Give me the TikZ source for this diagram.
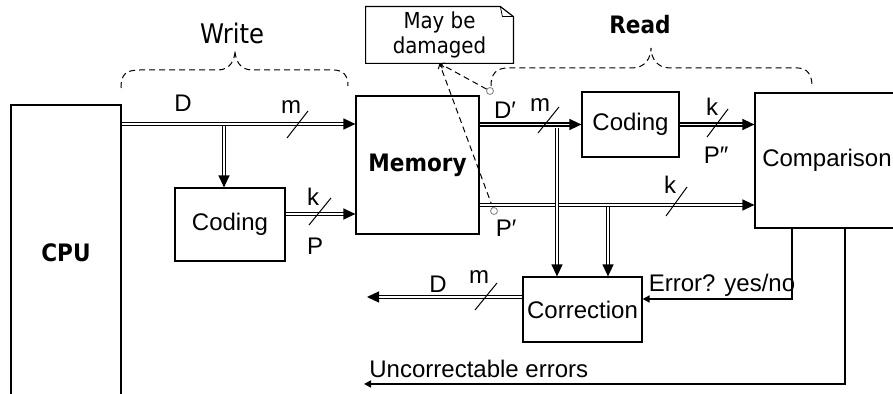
\documentclass[tikz,border=0pt]{standalone}
\usepackage{fontspec}
\setmainfont{Liberation Sans}
\newfontfamily\comicfont{DejaVu Sans Condensed}
\usepackage{tikz}
\usetikzlibrary{arrows.meta}
\tikzstyle{box}=[draw=black,line width=0.6pt,inner sep=0pt,font=\fontsize{12}{14}\selectfont]
\tikzstyle{comic}=[inner sep=0pt,font=\comicfont\fontsize{11}{12.5}\selectfont]
\tikzstyle{comicbold}=[font=\comicfont\bfseries\fontsize{12}{14}\selectfont]
\tikzstyle{lbl}=[inner sep=0pt,font=\fontsize{12}{14}\selectfont]
\tikzstyle{bus}=[double,double distance=0.8pt,line width=0.65pt,-{Triangle[length=6pt,width=5.5pt]}]
\tikzstyle{sig}=[line width=0.8pt,-{Triangle[length=3.5pt,width=3.5pt]}]
\tikzstyle{tick}=[line width=0.5pt]
\tikzstyle{brace}=[line width=0.5pt,dash pattern=on 3pt off 2pt]
\tikzstyle{port}=[circle,draw=gray,fill=white,line width=0.4pt,minimum size=3.5pt,inner sep=0pt]

\begin{document}
\begin{tikzpicture}[x=0.5pt,y=-0.5pt]
	\useasboundingbox (0,0) rectangle (893,394);
	\node[box,comicbold,minimum width=55pt,minimum height=148pt] (cpu) at (66,253) {CPU};
	\node[box,comicbold,minimum width=61.5pt,minimum height=69pt] (mem) at (417.5,165) {Memory};
	\node[box,minimum width=55pt,minimum height=36.5pt] (wcod) at (230,224.5) {Coding};
	\node[box,minimum width=48.5pt,minimum height=32.5pt] (rcod) at (630.5,124.5) {Coding};
	\node[box,minimum width=72pt,minimum height=67.5pt] (cmp) at (827,160.5) {Comparison};
	\node[box,minimum width=59.5pt,minimum height=32.5pt] (cor) at (582.5,309.5) {Correction};

	\node[comic,minimum width=73.5pt,minimum height=28pt,align=center] (note) at (439.5,35) {May be\\damaged};
	\draw[line width=0.6pt] (note.south west) -- (note.north west) -- ([xshift=-6.5pt]note.north east)
		-- ([yshift=-5pt]note.north east) -- (note.south east) -- cycle;
	\draw[line width=0.4pt] ([xshift=-6.5pt]note.north east) -- ([xshift=-5.5pt,yshift=-5pt]note.north east)
		-- ([yshift=-5pt]note.north east);

	\node[comic,font=\comicfont\fontsize{13.5}{15}\selectfont] (wlbl) at (232,33) {Write};
	\node[comic,comicbold] (rlbl) at (640,25) {Read};
	\draw[brace] (121,88) .. controls (121,74) and (126,70) .. (140,70) -- (218,70)
		.. controls (230,70) and (235,60) .. (235,50) .. controls (235,60) and (240,70) .. (252,70)
		-- (333,70) .. controls (343,70) and (348,75) .. (348,86);
	\draw[brace] (491,86) .. controls (491,74) and (496,68) .. (508,68) -- (632,68)
		.. controls (645,68) and (651,58) .. (651,48) .. controls (651,58) and (657,68) .. (670,68)
		-- (798,68) .. controls (808,68) and (812,76) .. (812,86);

	\node[port] (pD) at (490,91) {};
	\node[port] (pP) at (494,211) {};
	\draw[brace,-{Straight Barb[length=2pt,width=3pt]}] (pD) -- (note.south);
	\draw[brace,-{Straight Barb[length=2pt,width=3pt]}] (pP) -- (note.south);

	\coordinate (rowD) at (0,124);
	\coordinate (rowP) at (0,214);
	\coordinate (rowPp) at (0,205);
	\coordinate (brW) at (224,126);
	\coordinate (dropA) at (557,128);
	\coordinate (dropB) at (608,207);
	\coordinate (dOut) at (367,297);
	\coordinate (uncEnd) at (364,384);

	\draw[bus] (cpu.east |- rowD) -- (mem.west |- rowD);
	\draw[bus] (brW) -- (brW |- wcod.north);
	\draw[bus] (wcod.east |- rowP) -- (mem.west |- rowP);
	\draw[bus] (mem.east |- rcod.west) -- (rcod.west);
	\draw[bus] (rcod.east) -- (cmp.west |- rcod.east);
	\draw[bus] (mem.east |- rowPp) -- (cmp.west |- rowPp);
	\draw[bus] (dropA) -- (dropA |- cor.north);
	\draw[bus] (dropB) -- (dropB |- cor.north);
	\draw[bus] (cor.west |- dOut) -- (dOut);
	\draw[sig] ([xshift=-17.5pt]cmp.south) |- ([yshift=5.25pt]cor.east);
	\draw[sig] ([xshift=9pt]cmp.south) |- (uncEnd);

	\draw[tick] (287,138) -- ++(21,-27);
	\draw[tick] (309,225) -- ++(22,-27);
	\draw[tick] (538,133) -- ++(21,-26);
	\draw[tick] (707,137) -- ++(21,-28);
	\draw[tick] (666,216) -- ++(21,-29);
	\draw[tick] (475,310) -- ++(22,-27);

	\node[lbl] (lD) at (183,103) {D};
	\node[lbl] (lm1) at (291,107) {m};
	\node[lbl] (lk1) at (313,197) {k};
	\node[lbl] (lP) at (315,246) {P};
	\node[lbl] (lD2) at (505,110) {D′};
	\node[lbl] (lm2) at (540,105) {m};
	\node[lbl] (lk2) at (712,107) {k};
	\node[lbl] (lP2) at (716,155) {P″};
	\node[lbl] (lk3) at (670,185) {k};
	\node[lbl] (lP3) at (506,228) {P′};
	\node[lbl] (lD3) at (438,284) {D};
	\node[lbl] (lm3) at (479,277) {m};
	\node[lbl] (lerr) at (722,285) {Error? yes/no};
	\node[lbl,anchor=west] (lunc) at (369,369) {Uncorrectable errors};
\end{tikzpicture}
\end{document}
